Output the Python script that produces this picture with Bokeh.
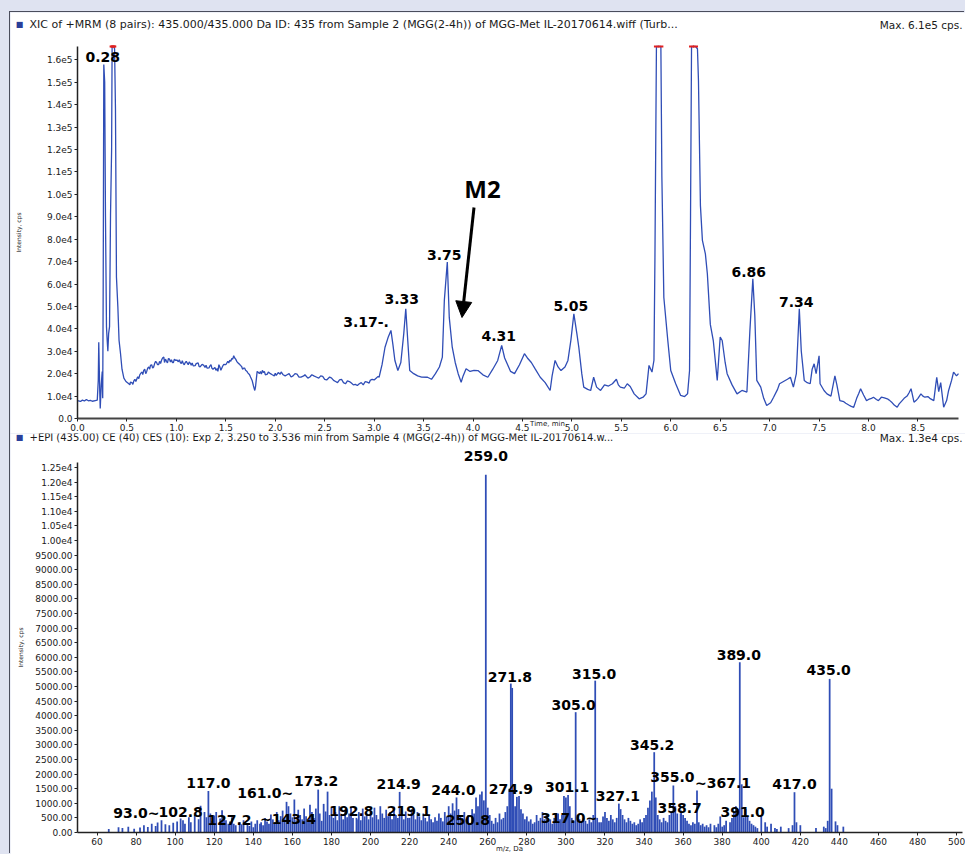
from bokeh.plotting import figure
from bokeh.layouts import column
from bokeh.models import FixedTicker, ColumnDataSource, LabelSet, Label, Arrow, NormalHead
from bokeh.core.properties import field, value
from bokeh.embed import file_html
from bokeh.resources import INLINE

# ---------------- data: XIC chromatogram (time, min ; intensity, cps) ----------------
xic_points = sorted([
    (0.00, 8000), (0.03, 7600), (0.05, 8200), (0.07, 7800), (0.09, 8500), (0.11, 7900), (0.13, 8100),
    (0.15, 7700), (0.18, 8000), (0.20, 8200), (0.21, 17000), (0.215, 34000), (0.225, 12000), (0.23, 4500),
    (0.24, 15000), (0.25, 21000), (0.255, 9000), (0.26, 60000), (0.266, 158000), (0.275, 150000),
    (0.283, 90000), (0.293, 41000), (0.30, 35000), (0.307, 30000), (0.315, 38000), (0.324, 41000),
    (0.334, 91000), (0.345, 120000), (0.35, 170000), (0.36, 170000), (0.367, 170000), (0.375, 165000),
    (0.384, 138000), (0.394, 63000), (0.408, 50000), (0.42, 35000), (0.435, 29000), (0.45, 22000),
    (0.469, 18000), (0.49, 16500), (0.519, 15500), (0.53, 15000), (0.535, 16200), (0.55, 16000),
    (0.56, 15200), (0.57, 16800), (0.58, 17500), (0.59, 16500), (0.603, 18000), (0.61, 18600),
    (0.62, 17800), (0.63, 19500), (0.64, 20200), (0.654, 20700), (0.66, 19600), (0.67, 21500),
    (0.68, 22000), (0.69, 20000), (0.70, 21000), (0.71, 22500), (0.72, 23000), (0.73, 22000),
    (0.738, 23700), (0.75, 24000), (0.76, 22500), (0.77, 23000), (0.78, 24500), (0.79, 25500),
    (0.80, 25000), (0.81, 24000), (0.82, 24000), (0.83, 25500), (0.84, 24500), (0.85, 26000),
    (0.86, 27000), (0.873, 27400), (0.88, 25000), (0.89, 26500), (0.90, 25500), (0.91, 24800),
    (0.92, 26800), (0.93, 26500), (0.94, 25200), (0.95, 26200), (0.96, 25000), (0.97, 25000),
    (0.98, 26500), (0.99, 26000), (1.008, 26000), (1.02, 25300), (1.03, 26200), (1.04, 25000),
    (1.05, 24500), (1.06, 25800), (1.07, 24500), (1.08, 24000), (1.09, 25000), (1.10, 25500),
    (1.12, 24000), (1.13, 25200), (1.143, 24500), (1.15, 23800), (1.16, 24800), (1.17, 23500),
    (1.19, 23600), (1.20, 24500), (1.22, 24800), (1.23, 23200), (1.24, 23000), (1.26, 24200),
    (1.277, 23700), (1.29, 22800), (1.30, 23800), (1.31, 22500), (1.33, 22600), (1.34, 23500),
    (1.35, 24000), (1.36, 22400), (1.37, 22000), (1.39, 22800), (1.40, 21500), (1.412, 22300),
    (1.42, 21000), (1.43, 24000), (1.44, 23000), (1.45, 21500), (1.46, 22500), (1.47, 23500),
    (1.48, 24200), (1.50, 24000), (1.513, 25000), (1.52, 25500), (1.53, 24800), (1.54, 26000),
    (1.55, 25500), (1.56, 26800), (1.57, 26500), (1.58, 28000), (1.59, 27000), (1.60, 26500),
    (1.61, 25500), (1.62, 25000), (1.63, 24500), (1.64, 24200), (1.648, 23700), (1.66, 23200),
    (1.67, 22000), (1.68, 22500), (1.69, 22500), (1.70, 21500), (1.715, 21000), (1.72, 20500),
    (1.73, 20000), (1.74, 19500), (1.75, 18500),
    (1.766, 17000), (1.78, 14500), (1.793, 12500), (1.80, 14000), (1.817, 21000), (1.83, 20500),
    (1.84, 20000), (1.85, 21000), (1.86, 19800), (1.87, 21500), (1.88, 20500), (1.89, 21000),
    (1.90, 19500), (1.92, 19800), (1.93, 20800), (1.951, 20000), (1.97, 19500), (1.99, 19000),
    (2.00, 20200), (2.01, 19200), (2.03, 20500), (2.05, 19800), (2.06, 20800), (2.08, 19500),
    (2.10, 19000), (2.12, 19500), (2.14, 20000), (2.16, 18500), (2.18, 19000), (2.20, 20000),
    (2.22, 19800), (2.24, 18500), (2.26, 18500), (2.288, 19000), (2.30, 19500), (2.33, 18000),
    (2.35, 18500), (2.37, 19500), (2.39, 19000), (2.42, 18400), (2.44, 18000), (2.46, 19000),
    (2.48, 18800), (2.50, 17500), (2.52, 17200), (2.55, 18500), (2.57, 18000), (2.59, 17000),
    (2.61, 16500), (2.63, 16000), (2.65, 17200), (2.67, 17500), (2.69, 16000), (2.71, 15500),
    (2.73, 16800), (2.75, 16500), (2.77, 15800), (2.79, 15000), (2.81, 15200), (2.83, 14700),
    (2.85, 15500), (2.87, 16000), (2.89, 15000), (2.91, 16500), (2.93, 16200), (2.95, 15800),
    (2.96, 17000), (2.98, 17500), (3.00, 17200), (3.02, 18000), (3.04, 18800), (3.05, 18400),
    (3.08, 24000), (3.11, 31800), (3.14, 36000), (3.17, 39300), (3.19, 33000), (3.21, 25900),
    (3.24, 21400), (3.27, 25000), (3.30, 38000), (3.32, 49000), (3.34, 34800), (3.36, 21400),
    (3.40, 20000), (3.44, 19000), (3.48, 18500), (3.54, 18400), (3.58, 17500), (3.62, 20000),
    (3.66, 23000), (3.69, 27400), (3.71, 52700), (3.74, 69800), (3.76, 45000), (3.79, 31800),
    (3.82, 25000), (3.85, 20000), (3.88, 16200), (3.90, 19000), (3.93, 22200), (3.97, 21000),
    (4.01, 21500), (4.05, 21400), (4.10, 19500), (4.15, 18400), (4.20, 22000), (4.25, 25900),
    (4.29, 32600), (4.32, 27000), (4.34, 25000), (4.38, 21000), (4.42, 20000), (4.47, 24000),
    (4.52, 28900), (4.55, 27000), (4.59, 25000), (4.63, 22000), (4.68, 18400), (4.73, 16000),
    (4.78, 12500), (4.80, 19000), (4.83, 25900), (4.86, 23000), (4.89, 21400), (4.93, 23000),
    (4.96, 25900), (4.99, 35000), (5.02, 46700), (5.05, 38000), (5.07, 31800), (5.10, 20000),
    (5.12, 14000), (5.16, 13000), (5.19, 12500), (5.22, 18400), (5.25, 14000), (5.29, 12500),
    (5.33, 15000), (5.37, 14500), (5.41, 15500), (5.45, 17500), (5.47, 15000), (5.49, 14000),
    (5.53, 13500), (5.56, 15500), (5.59, 14300), (5.63, 11000), (5.68, 8800), (5.72, 9500),
    (5.75, 11000), (5.78, 23700), (5.81, 20700), (5.83, 26000), (5.84, 72000), (5.855, 300000),
    (5.90, 300000), (5.91, 108000), (5.93, 54000), (5.97, 34800), (6.00, 21400), (6.05, 15500),
    (6.10, 10300), (6.14, 9800), (6.17, 11000), (6.19, 21400), (6.20, 91000), (6.21, 610000),
    (6.25, 610000), (6.27, 165000), (6.28, 151000), (6.30, 95000), (6.32, 79500), (6.35, 73500),
    (6.37, 64600), (6.40, 42000), (6.43, 34800), (6.47, 17000), (6.50, 36300), (6.52, 34800),
    (6.55, 25000), (6.57, 20000), (6.62, 15000), (6.67, 11000), (6.72, 12500), (6.77, 11800),
    (6.80, 39000), (6.83, 62300), (6.85, 46000), (6.87, 17000), (6.91, 14000), (6.94, 9000),
    (6.97, 5800), (7.01, 7000), (7.04, 9500), (7.08, 13000), (7.10, 15500), (7.14, 16500),
    (7.18, 17500), (7.21, 18400), (7.24, 14000), (7.27, 20000), (7.30, 49000), (7.32, 30000),
    (7.35, 17000), (7.38, 16000), (7.41, 15500), (7.43, 22000), (7.45, 24400), (7.47, 20000),
    (7.50, 28000), (7.51, 15500), (7.55, 12500), (7.58, 11000), (7.62, 10000), (7.66, 19000),
    (7.68, 15000), (7.71, 8000), (7.75, 7500), (7.77, 6800), (7.80, 6000), (7.82, 5500),
    (7.85, 5000), (7.88, 9000), (7.90, 11000), (7.92, 13300), (7.95, 10500), (7.98, 8000),
    (8.00, 8500), (8.03, 9000), (8.05, 9500), (8.08, 8500), (8.10, 8000), (8.13, 9500),
    (8.16, 9200), (8.19, 8800), (8.21, 8200), (8.24, 7000), (8.26, 6000), (8.29, 5000),
    (8.31, 6500), (8.34, 8000), (8.36, 9000), (8.39, 10000), (8.41, 11500), (8.43, 13300),
    (8.46, 7300), (8.48, 8000), (8.50, 9000), (8.53, 11000), (8.55, 10000), (8.57, 9500),
    (8.60, 9800), (8.62, 9000), (8.66, 8000), (8.68, 15000), (8.69, 18400), (8.71, 12000),
    (8.73, 16000), (8.76, 5000), (8.79, 8000), (8.81, 12500), (8.84, 17000), (8.86, 20700),
    (8.89, 19000), (8.91, 20000),
])
xic_time = [p[0] for p in xic_points]
xic_intensity = [p[1] for p in xic_points]

xic_peak_time = [0.266, 3.17, 3.32, 3.74, 4.29, 5.02, 6.83, 7.30]
xic_peak_text = ["0.28", "3.17-.", "3.33", "3.75", "4.31", "5.05", "6.86", "7.34"]

top_x_ticks = [0.0, 0.5, 1.0, 1.5, 2.0, 2.5, 3.0, 3.5, 4.0, 4.5, 5.0, 5.5, 6.0, 6.5, 7.0, 7.5, 8.0, 8.5]
top_x_labels = ["0.0", "0.5", "1.0", "1.5", "2.0", "2.5", "3.0", "3.5", "4.0", "4.5", "5.0", "5.5",
                "6.0", "6.5", "7.0", "7.5", "8.0", "8.5"]
top_y_ticks = [0, 10000, 20000, 30000, 40000, 50000, 60000, 70000, 80000, 90000, 100000, 110000,
               120000, 130000, 140000, 150000, 160000]
top_y_labels = ["0.0", "1.0e4", "2.0e4", "3.0e4", "4.0e4", "5.0e4", "6.0e4", "7.0e4", "8.0e4", "9.0e4",
                "1.0e5", "1.1e5", "1.2e5", "1.3e5", "1.4e5", "1.5e5", "1.6e5"]

# ---------------- data: EPI product-ion spectrum (m/z ; intensity, cps) ----------------
ms_peak_mz = [93.0, 102.8, 117.0, 127.2, 143.4, 161.0, 173.2, 192.8, 214.9, 219.1, 244.0, 250.8,
              259.0, 271.8, 274.9, 301.1, 305.0, 315.0, 317.0, 327.1, 345.2, 355.0, 358.7, 367.1,
              389.0, 391.0, 417.0, 435.0]
ms_peak_int = [420, 480, 1420, 300, 300, 1130, 1470, 500, 1390, 500, 1200, 300,
               12250, 5100, 1220, 1280, 4120, 5200, 350, 990, 2750, 1610, 650, 1440,
               5830, 520, 1380, 5260]
ms_peak_text = ["93.0~", "102.8", "117.0", "127.2", "~143.4", "161.0~", "173.2", "192.8", "214.9",
                "219.1", "244.0", "250.8", "259.0", "271.8", "274.9", "301.1", "305.0", "315.0",
                "317.0~", "327.1", "345.2", "355.0", "358.7", "~367.1", "389.0", "391.0", "417.0", "435.0"]

ms_noise = [
    (66, 120), (71, 180), (73, 150), (76, 200), (79, 130), (82, 170), (84, 250), (86, 190), (88, 300),
    (90, 220), (91, 340), (95, 280), (97, 250), (99, 330),
    (101, 380), (104, 420), (105, 300), (107, 520), (108, 350), (110, 600), (112, 450), (113, 920),
    (115, 700), (116, 520), (118, 650), (119, 400), (120, 580), (121, 700), (123, 480), (124, 760),
    (125, 560), (126, 420), (128, 380), (129, 520), (130, 300), (131, 250), (133, 350), (134, 280),
    (135, 420), (137, 300), (138, 220), (139, 380), (140, 180),
    (141, 300), (142, 420), (144, 350), (145, 250), (146, 500), (147, 380), (148, 300), (149, 620),
    (150, 450), (151, 350), (152, 700), (153, 420), (154, 560), (155, 750), (156, 480), (157, 1050),
    (158, 900), (159, 650), (160, 520), (162, 420), (163, 780), (164, 600), (165, 450), (166, 820),
    (167, 560), (168, 380), (169, 950), (170, 700), (171, 500),
    (172, 820), (174, 650), (175, 400), (176, 980), (177, 720), (178, 1400), (179, 600), (180, 850),
    (181, 500), (182, 700), (183, 420), (184, 900), (185, 600), (186, 450), (187, 780), (188, 520),
    (189, 650), (190, 880), (191, 500), (193, 450), (194, 700), (195, 420), (196, 820), (197, 550),
    (198, 650), (199, 450), (200, 700),
    (201, 520), (202, 850), (203, 600), (204, 450), (205, 900), (206, 650), (207, 500), (208, 780),
    (209, 560), (210, 700), (211, 450), (212, 880), (213, 600), (214, 500), (216, 650), (217, 450),
    (218, 720), (220, 500), (221, 800), (222, 600), (223, 450), (224, 700), (225, 550), (226, 420),
    (227, 650), (228, 500), (229, 380), (230, 600), (231, 450), (232, 350), (233, 520), (234, 400),
    (235, 650), (236, 500), (237, 380), (238, 700), (239, 550), (240, 900),
    (241, 650), (242, 1000), (243, 750), (245, 800), (246, 600), (247, 500), (248, 700), (249, 450),
    (250, 600), (252, 800), (253, 650), (254, 1200), (255, 900), (256, 1300), (257, 1400), (258, 1100),
    (260, 850), (261, 600), (262, 400), (263, 300), (264, 500), (265, 350), (266, 650), (267, 450),
    (268, 500), (269, 700), (270, 900), (271, 1500), (272.5, 4950), (273, 1400), (274, 900), (276, 1250),
    (277, 800), (278, 650), (279, 450), (280, 550),
    (281, 380), (282, 450), (283, 300), (284, 350), (285, 600), (286, 400), (287, 500), (288, 700),
    (289, 450), (290, 600), (291, 350), (292, 450), (293, 300), (294, 500), (295, 400), (296, 650),
    (297, 450), (298, 600), (299, 1250), (300, 1200), (302, 900), (303, 500), (304, 400), (306, 600),
    (307, 450), (308, 350), (309, 500), (310, 400), (311, 300), (312, 450), (313, 350), (314, 600),
    (316, 500), (318, 350), (319, 550), (320, 700),
    (321, 500), (322, 400), (323, 600), (324, 450), (325, 350), (326, 500), (328, 800), (329, 600),
    (330, 450), (331, 350), (332, 500), (333, 400), (334, 300), (335, 350), (336, 250), (337, 300),
    (338, 450), (339, 350), (340, 500), (341, 600), (342, 850), (343, 1100), (344, 1400), (346, 1200),
    (347, 600), (348, 450), (349, 350), (350, 500), (351, 400), (352, 350), (353, 600), (354, 700),
    (356, 900), (357, 650), (359, 750), (360, 600),
    (361, 500), (362, 400), (363, 300), (364, 250), (365, 350), (366, 300), (368, 350), (369, 250),
    (370, 300), (371, 200), (372, 250), (373, 180), (374, 300), (376, 250), (377, 180), (378, 300),
    (379, 550), (380, 200), (381, 250), (382, 400), (384, 350), (385, 500), (386, 700), (387, 900),
    (388, 800), (390, 1650), (392, 800), (393, 550), (394, 400), (395, 300), (396, 250), (397, 200),
    (398, 150), (400, 550),
    (402, 350), (403, 200), (405, 300), (407, 150), (408, 120), (410, 200), (414, 150), (416, 250),
    (418, 350), (420, 250), (428, 150), (432, 200), (433, 150), (434, 400), (436, 1500), (438, 380),
    (439, 250), (442, 200),
]
noise_mz = [p[0] for p in ms_noise]
noise_int = [p[1] for p in ms_noise]

bottom_x_ticks = [60, 80, 100, 120, 140, 160, 180, 200, 220, 240, 260, 280, 300, 320, 340, 360, 380,
                  400, 420, 440, 460, 480, 500]
bottom_x_labels = [str(v) for v in bottom_x_ticks]
bottom_y_ticks = [0, 500, 1000, 1500, 2000, 2500, 3000, 3500, 4000, 4500, 5000, 5500, 6000, 6500, 7000,
                  7500, 8000, 8500, 9000, 9500, 10000, 10500, 11000, 11500, 12000, 12500]
bottom_y_labels = ["0.00", "500.00", "1000.00", "1500.00", "2000.00", "2500.00", "3000.00", "3500.00",
                   "4000.00", "4500.00", "5000.00", "5500.00", "6000.00", "6500.00", "7000.00", "7500.00",
                   "8000.00", "8500.00", "9000.00", "9500.00", "1.00e4", "1.05e4", "1.10e4", "1.15e4",
                   "1.20e4", "1.25e4"]

top_header = "XIC of +MRM (8 pairs): 435.000/435.000 Da ID: 435 from Sample 2 (MGG(2-4h)) of MGG-Met IL-20170614.wiff (Turb..."
top_max = "Max. 6.1e5 cps."
bottom_header = "+EPI (435.00) CE (40) CES (10): Exp 2, 3.250 to 3.536 min from Sample 4 (MGG(2-4h)) of MGG-Met IL-20170614.w..."
bottom_max = "Max. 1.3e4 cps."

# ---------------- styles / layout ----------------
BLUE = "#2f4db6"
LAV = "#dfe3f1"
TXT = "#1a1a1a"
TICK_FONT = "DejaVu Sans"
PEAK_FONT = "DejaVu Sans"

X1 = (0.0, 8.91)        # visible time axis
Y1 = (0, 166000)        # visible intensity axis (top)
X2 = (50, 503)          # visible m/z axis
Y2 = (0, 12670)         # visible intensity axis (bottom)

# page geometry (pixels)
PANEL_L, PANEL_T = 10, 12
W = 955
H1, H2 = 421, 421
P2_T = PANEL_T + H1
F1 = dict(l=77, r=958, t=46, b=418)     # where the top axes sit on the page
F2 = dict(l=77, r=962, t=462, b=832)    # where the bottom axes sit on the page


def t_at(px):
    return X1[0] + (px - F1["l"]) * (X1[1] - X1[0]) / (F1["r"] - F1["l"])


def y1_at(py):
    return Y1[0] + (F1["b"] - py) * (Y1[1] - Y1[0]) / (F1["b"] - F1["t"])


def mz_at(px):
    return X2[0] + (px - F2["l"]) * (X2[1] - X2[0]) / (F2["r"] - F2["l"])


def y2_at(py):
    return Y2[0] + (F2["b"] - py) * (Y2[1] - Y2[0]) / (F2["b"] - F2["t"])


def style_axes(p, xt, xl, yt, yl, xb, yb, ylab_standoff):
    p.xgrid.visible = False
    p.ygrid.visible = False
    p.outline_line_color = None
    p.background_fill_color = "white"
    p.border_fill_color = "white"
    p.xaxis[0].fixed_location = yb[0]
    p.yaxis[0].fixed_location = xb[0]
    p.xaxis[0].bounds = xb
    p.yaxis[0].bounds = yb
    for ax, ticks, labels in ((p.xaxis[0], xt, xl), (p.yaxis[0], yt, yl)):
        ax.ticker = FixedTicker(ticks=ticks, minor_ticks=[])
        ax.major_label_overrides = dict(zip(ticks, labels))
        ax.major_label_text_font = TICK_FONT
        ax.major_label_text_font_size = "9px"
        ax.major_label_text_color = TXT
        ax.major_tick_out = 3
        ax.major_tick_in = 0
        ax.minor_tick_line_color = None
        ax.major_tick_line_color = "#222222"
        ax.axis_line_color = "#222222"
        ax.axis_line_width = 1.5
        ax.major_label_standoff = 2
    p.yaxis[0].axis_label = "Intensity, cps"
    p.yaxis[0].axis_label_text_font = TICK_FONT
    p.yaxis[0].axis_label_text_font_size = "6px"
    p.yaxis[0].axis_label_text_font_style = "normal"
    p.yaxis[0].axis_label_text_color = TXT
    p.yaxis[0].axis_label_standoff = ylab_standoff


def add_text(p, x, y, text, size="9px", align="left", font=TICK_FONT, style="normal", color=TXT):
    p.add_layout(Label(x=x, y=y, text=text, text_font=font, text_font_size=size, text_font_style=style,
                       text_align=align, text_baseline="middle", text_color=color))


# ---------------- top: XIC ----------------
p1 = figure(width=W, height=H1, title=None, output_backend="svg", toolbar_location=None,
            x_range=(t_at(PANEL_L), t_at(PANEL_L + W)), y_range=(y1_at(PANEL_T + H1), y1_at(PANEL_T)),
            min_border_left=0, min_border_right=0, min_border_top=0, min_border_bottom=0)
style_axes(p1, top_x_ticks, top_x_labels, top_y_ticks, top_y_labels, X1, Y1, 22)
p1.xaxis[0].axis_line_width = 2
p1.xaxis[0].axis_line_color = "#444444"

# trace is cut at the top of the intensity axis, as the instrument display does
xic_shown = [min(i, Y1[1]) for i in xic_intensity]
p1.line(xic_time, xic_shown, line_color=BLUE, line_width=1.3)
clip_t = [t for t, i in zip(xic_time, xic_intensity) if i > Y1[1]]
p1.scatter(clip_t, [Y1[1]] * len(clip_t), marker="dash", size=5, line_color="#e02020", line_width=2)

top_lab = ColumnDataSource(dict(
    x=xic_peak_time,
    y=[xic_intensity[xic_time.index(t)] for t in xic_peak_time],
    text=xic_peak_text,
    dx=[-1, -2, -4, -3, -3, -3, -4, -3],
    dy=[7, 8, 10, 7, 9, 8, 7, 7],
    align=["center", "right", "center", "center", "center", "center", "center", "center"],
))
p1.add_layout(LabelSet(x="x", y="y", text="text", source=top_lab, x_offset=field("dx"), y_offset=field("dy"),
                       text_align=field("align"), text_baseline="middle", text_font=value(PEAK_FONT),
                       text_font_size="14px", text_font_style="bold", text_color="black"))

p1.add_layout(Arrow(end=NormalHead(size=16, fill_color="black", line_color="black"),
                    x_start=t_at(473.5), y_start=y1_at(207), x_end=t_at(461.5), y_end=y1_at(317),
                    line_width=3, line_color="black"))
add_text(p1, t_at(482), y1_at(188), "M2", size="24px", align="center", font="Open Sans", style="bold",
         color="black")

add_text(p1, t_at(19), y1_at(24), "■", size="8px", align="center", color="#2a3f9a")
add_text(p1, t_at(29), y1_at(24), top_header, size="11px")
add_text(p1, t_at(962), y1_at(24), top_max, size="10.5px", align="right")
add_text(p1, t_at(547), y1_at(423), "Time, min", size="7px", align="center")

# ---------------- bottom: EPI spectrum ----------------
p2 = figure(width=W, height=H2, title=None, output_backend="svg", toolbar_location=None,
            x_range=(mz_at(PANEL_L), mz_at(PANEL_L + W)), y_range=(y2_at(P2_T + H2), y2_at(P2_T)),
            min_border_left=0, min_border_right=0, min_border_top=0, min_border_bottom=0)
style_axes(p2, bottom_x_ticks, bottom_x_labels, bottom_y_ticks, bottom_y_labels, X2, Y2, 8)

p2.vbar(x=noise_mz, top=noise_int, width=0.9, fill_color=BLUE, line_color=None)
p2.vbar(x=ms_peak_mz, top=ms_peak_int, width=0.9, fill_color=BLUE, line_color=None)

ms_lab = ColumnDataSource(dict(
    x=ms_peak_mz, y=ms_peak_int, text=ms_peak_text,
    dx=[-2, 0, 0, 1, 0, -1, -2, -5, -1, 1, -3, -2, 0, -1, -6, -1, -2, -1, -2, -1, -2, -1, -1, -2, -1, -1, 0, -1],
    dy=[7, 6, 8, 4, 5, 7, 9, 7, 8, 7, 7, 4, 19, 7, 8, 8, 7, 7, 4, 8, 7, 8, 6, 7, 7, 5, 8, 9],
    align=["right", "center", "center", "center", "left", "right", "center", "center", "center", "center",
           "center", "center", "center", "center", "center", "center", "center", "center", "right", "center",
           "center", "center", "center", "left", "center", "center", "center", "center"],
))
p2.add_layout(LabelSet(x="x", y="y", text="text", source=ms_lab, x_offset=field("dx"), y_offset=field("dy"),
                       text_align=field("align"), text_baseline="middle", text_font=value(PEAK_FONT),
                       text_font_size="14px", text_font_style="bold", text_color="black"))

add_text(p2, mz_at(19), y2_at(437), "■", size="8px", align="center", color="#2a3f9a")
add_text(p2, mz_at(29), y2_at(437), bottom_header, size="10px")
add_text(p2, mz_at(962), y2_at(437), bottom_max, size="10.5px", align="right")
add_text(p2, mz_at(509), y2_at(848), "m/z, Da", size="7px", align="center")

inner = column(p1, p2, spacing=0, margin=(PANEL_T, 0, 0, PANEL_L),
               styles={"box-shadow": "-1px -1px 0 0 #4a4d5c"})
page = column(inner, spacing=0, width=965, height=854, styles={"background-color": LAV})

open("out.html", "w").write(file_html(page, INLINE))
